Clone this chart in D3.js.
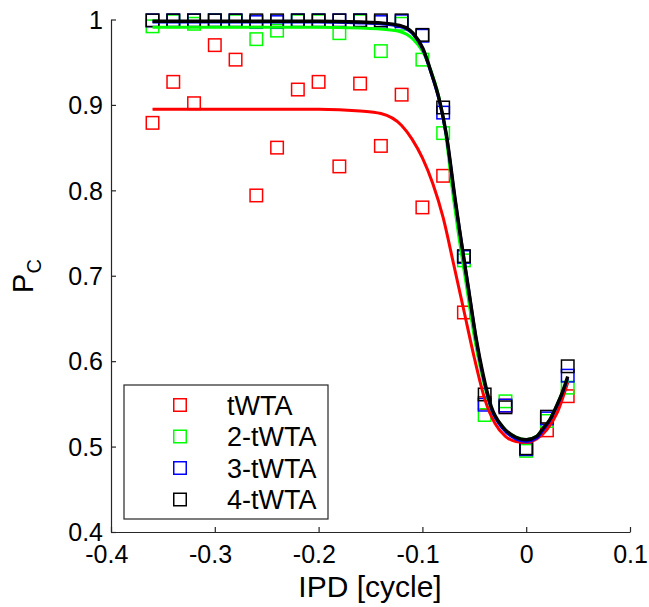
<!DOCTYPE html>
<html><head><meta charset="utf-8">
<script src="https://cdn.jsdelivr.net/npm/d3@7"></script>
<style>body{margin:0;background:#fff}svg{display:block}</style></head>
<body><svg id="c" width="649" height="607"></svg>
<script>
// ---- data ----
const ipd = [-0.36,-0.34,-0.32,-0.30,-0.28,-0.26,-0.24,-0.22,-0.20,-0.18,-0.16,-0.14,-0.12,-0.10,-0.08,-0.06,-0.04,-0.02,0,0.02,0.04];
const pcTWTA  = [0.879,0.927,0.902,0.970,0.953,0.794,0.850,0.918,0.927,0.828,0.925,0.852,0.912,0.780,0.817,0.657,0.551,0.548,0.497,0.519,0.559];
const pc2TWTA = [0.992,0.998,0.995,0.999,0.998,0.977,0.987,0.998,0.998,0.984,0.998,0.963,0.995,0.953,0.867,0.718,0.537,0.553,0.495,0.530,0.569];
const pc3TWTA = [0.999,0.999,0.999,0.999,0.999,0.997,0.997,0.999,0.999,0.999,0.999,0.997,0.998,0.981,0.891,0.722,0.549,0.548,0.497,0.533,0.583];
const pc4TWTA = [0.999,0.999,0.999,0.999,0.999,0.999,0.999,0.999,0.999,0.999,0.999,0.999,0.999,0.982,0.897,0.723,0.561,0.546,0.498,0.535,0.594];

// fitted curves
const fitTWTA = [[-0.36,0.895],[-0.20,0.895],[-0.16,0.893],[-0.14,0.890],[-0.12,0.876],[-0.11,0.860],[-0.10,0.838],[-0.09,0.808],[-0.08,0.768],[-0.07,0.714],[-0.06,0.659],[-0.05,0.604],[-0.04,0.556],[-0.03,0.527],[-0.02,0.512],[-0.01,0.506],[0,0.505],[0.01,0.509],[0.02,0.520],[0.03,0.540],[0.04,0.575]];
const fit2TWTA = [[-0.36,0.991],[-0.20,0.991],[-0.16,0.990],[-0.141,0.989],[-0.122,0.986],[-0.109,0.977],[-0.10,0.963],[-0.0915,0.939],[-0.0835,0.906],[-0.0785,0.874],[-0.070,0.790],[-0.0658,0.7535],[-0.0575,0.688],[-0.0495,0.625],[-0.043,0.586],[-0.0345,0.547],[-0.023,0.523],[-0.01,0.511],[0,0.508],[0.01,0.512],[0.016,0.521],[0.023,0.532],[0.029,0.547],[0.035,0.564],[0.04,0.578]];
const fit3TWTA = [[-0.36,0.997],[-0.20,0.997],[-0.16,0.996],[-0.14,0.995],[-0.122,0.992],[-0.109,0.983],[-0.0995,0.965],[-0.0915,0.937],[-0.0835,0.904],[-0.077,0.865],[-0.0685,0.789],[-0.0642,0.7535],[-0.056,0.688],[-0.048,0.624],[-0.0418,0.584],[-0.0337,0.545],[-0.0225,0.521],[-0.01,0.509],[0,0.506],[0.01,0.510],[0.016,0.519],[0.023,0.531],[0.029,0.546],[0.035,0.563],[0.04,0.580]];
const fit4TWTA = [[-0.36,0.998],[-0.20,0.998],[-0.16,0.997],[-0.14,0.996],[-0.122,0.993],[-0.109,0.984],[-0.0995,0.966],[-0.0915,0.938],[-0.0835,0.905],[-0.077,0.866],[-0.0685,0.790],[-0.0642,0.7535],[-0.056,0.688],[-0.048,0.625],[-0.0418,0.586],[-0.0337,0.547],[-0.0225,0.523],[-0.01,0.511],[0,0.508],[0.01,0.512],[0.016,0.521],[0.023,0.532],[0.029,0.547],[0.035,0.564],[0.04,0.582]];

const seriesNames = ["tWTA","2-tWTA","3-tWTA","4-tWTA"];
const seriesColors = ["#ff0000","#00ff00","#0000ff","#000000"];
const xTicks = [-0.4,-0.3,-0.2,-0.1,0,0.1];
const yTicks = [0.4,0.5,0.6,0.7,0.8,0.9,1];
const xLabel = "IPD [cycle]";

// ---- drawing ----
const svg = d3.select("#c");
const font = "'Liberation Sans', Arial, Helvetica, sans-serif";
const x = d3.scaleLinear().domain([-0.4,0.1]).range([111,630]);
const y = d3.scaleLinear().domain([0.4,1]).range([532,19.5]);
const axisColor = "#262626";

const values = [pcTWTA,pc2TWTA,pc3TWTA,pc4TWTA];
const fits = [fitTWTA,fit2TWTA,fit3TWTA,fit4TWTA];
const lineWidths = [3,3,3,3.4];
const ms = 12.5;
const fmt = d => String(d);

// axes
const xAxis = d3.axisBottom(x).tickValues(xTicks).tickSizeInner(-5).tickSizeOuter(0).tickFormat(fmt).tickPadding(0);
const gx = svg.append("g").attr("transform","translate(0,532)").call(xAxis);
const yAxis = d3.axisLeft(y).tickValues(yTicks).tickSizeInner(-5).tickSizeOuter(0).tickFormat(fmt).tickPadding(0);
const gy = svg.append("g").attr("transform","translate(111,0)").call(yAxis);
[gx,gy].forEach(g=>{
  g.select(".domain").attr("stroke",axisColor).attr("stroke-width",1.2);
  g.selectAll(".tick line").attr("stroke",axisColor).attr("stroke-width",1.2);
  g.selectAll("text").attr("fill","#000").style("font-family",font).style("font-size","25px");
});
gx.selectAll(".tick text").attr("y",0).attr("dy",31).attr("dx",d=>d<0?"-0.19em":"0");
gy.selectAll(".tick text").attr("x",-8).attr("dy","0.35em");

// markers
values.forEach((vals,i)=>{
  svg.append("g").selectAll("rect").data(vals).join("rect")
    .attr("x",(d,j)=>x(ipd[j])-ms/2).attr("y",d=>y(d)-ms/2)
    .attr("width",ms).attr("height",ms)
    .attr("fill","none").attr("stroke",seriesColors[i]).attr("stroke-width",1.5);
});

// fitted lines
const line = d3.line().x(d=>x(d[0])).y(d=>y(d[1])).curve(d3.curveMonotoneX);
fits.forEach((f,i)=>{
  svg.append("path").datum(f).attr("d",line).attr("fill","none")
    .attr("stroke",seriesColors[i]).attr("stroke-width",lineWidths[i]).attr("stroke-linejoin","round");
});

// axis labels
svg.append("text").attr("x",370).attr("y",597).attr("text-anchor","middle")
  .style("font-family",font).style("font-size","30px").text(xLabel);
const yl = svg.append("text").attr("transform","translate(33,276) rotate(-90)").attr("text-anchor","middle")
  .style("font-family",font);
yl.append("tspan").style("font-size","29px").text("P");
yl.append("tspan").style("font-size","20px").attr("dy",8).text("C");

// legend
const lg = svg.append("g");
lg.append("rect").attr("x",124).attr("y",385).attr("width",204).attr("height",134)
  .attr("fill","#fff").attr("stroke",axisColor).attr("stroke-width",1.2);
seriesNames.forEach((n,i)=>{
  const cy = 405 + i*31.5;
  lg.append("rect").attr("x",180-ms/2).attr("y",cy-ms/2).attr("width",ms).attr("height",ms)
    .attr("fill","none").attr("stroke",seriesColors[i]).attr("stroke-width",1.5);
  lg.append("text").attr("x",227).attr("y",cy).attr("dy","0.36em")
    .style("font-family",font).style("font-size","27px").text(n);
});
</script></body></html>
